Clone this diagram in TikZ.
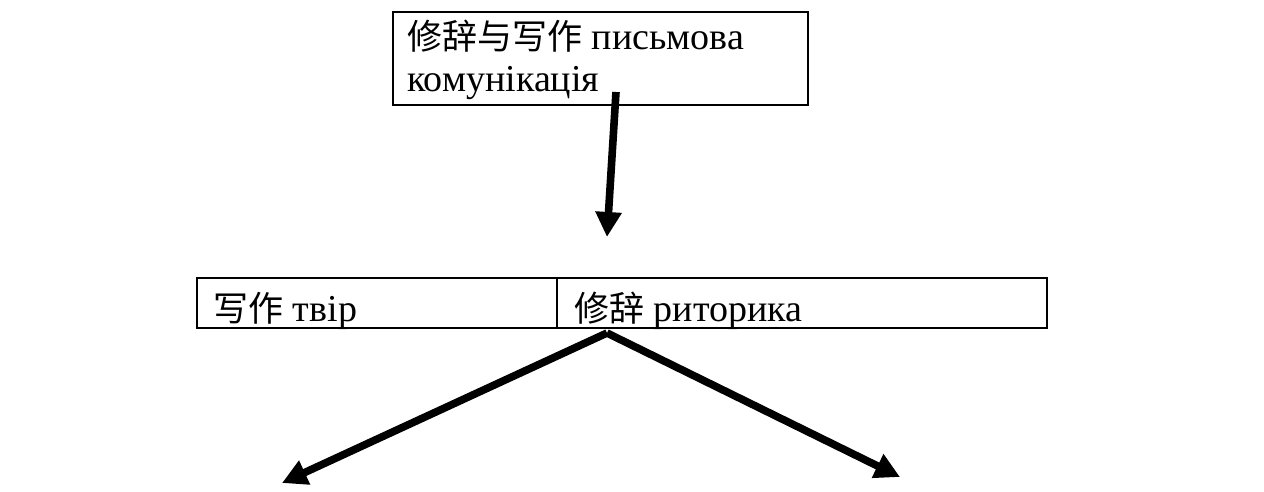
\documentclass[tikz,border=0pt]{standalone}
\usepackage{fontspec}
\setmainfont{Liberation Serif}
\newfontfamily\cjk{Noto Sans CJK SC}
\newcommand{\zh}[1]{{\cjk\fontsize{17.5}{21}\selectfont #1}}
\usetikzlibrary{arrows.meta}
\begin{document}
\begin{tikzpicture}[x=0.5pt,y=-0.5pt,
  box/.style={draw,line width=1.1pt,inner sep=0pt},
  txt/.style={inner sep=0pt,anchor=base west,font=\fontsize{19}{21}\selectfont},
  arr/.style={line width=3.8pt,-{Triangle[length=12.5pt,width=12.5pt]}}]
\useasboundingbox (0,0) rectangle (1264,492);
\node[box,minimum width=207.5pt,minimum height=46.5pt] (top) at (600.5,58.5) {};
\node[txt] (t1) at (407,50) {\zh{修辞与写作} письмова};
\node[txt] (t2) at (407,92) {комунікація};
\node[box,minimum width=180pt,minimum height=25pt] (c1) at (377,303) {};
\node[box,minimum width=245pt,minimum height=25pt] (c2) at (802,303) {};
\node[txt] (c1t) at (213,321) {\zh{写作} твір};
\node[txt] (c2t) at (574,321) {\zh{修辞} риторика};
\coordinate (a0) at (616,92);
\coordinate (a1) at (607,237);
\coordinate (apex) at (607,333);
\coordinate (l) at (282,483);
\coordinate (r) at (900,477);
\draw[arr] (a0) -- (a1);
\draw[arr] (apex) -- (l);
\draw[arr] (apex) -- (r);
\end{tikzpicture}
\end{document}
